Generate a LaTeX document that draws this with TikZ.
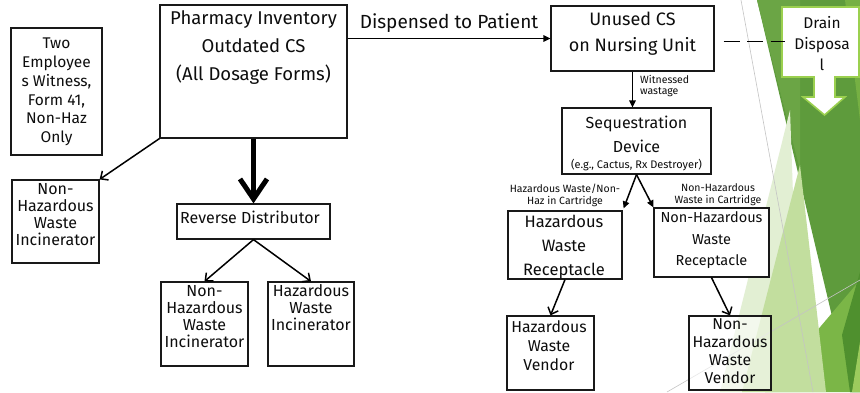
\documentclass[tikz,border=0pt]{standalone}
\usepackage{fontspec}
\setmainfont{Fira Sans}
\usetikzlibrary{arrows.meta}
\definecolor{leafgreen}{RGB}{94,155,60}
\definecolor{facetMedium}{RGB}{107,165,69}
\definecolor{facetTop}{RGB}{118,176,67}
\definecolor{facetBright}{RGB}{123,182,71}
\definecolor{facetDeep}{RGB}{79,144,46}
\definecolor{facetLimeB}{RGB}{156,203,93}
\definecolor{facetVPale}{RGB}{226,239,211}
\definecolor{facetLight}{RGB}{194,222,158}
\definecolor{facetLime}{RGB}{155,208,79}
\definecolor{thinline}{RGB}{196,196,196}
\newcommand\fsz[2]{\fontsize{#1}{#2}\selectfont}
\begin{document}
\begin{tikzpicture}[x=1pt,y=-1pt,
  box/.style={draw=black!90, line width=1.2pt, fill=white, inner sep=0pt},
  txt/.style={align=center, inner sep=0pt, text=black!95},
  conn/.style={line width=1.5pt, draw=black},
  openarrow/.style={conn, -{Straight Barb[length=6pt,width=11pt]}},
  fillarrow/.style={conn, -{Triangle[length=7pt,width=6.5pt]}}]
\useasboundingbox (0,0) rectangle (860,392);
\fill[white] (0,0) rectangle (860,392);
% background facets
\fill[leafgreen] (757,0) -- (860,0) -- (860,392) -- (850,392) -- cycle;
\fill[facetMedium] (757,0) -- (800,0) -- (800,170) -- cycle;
\fill[facetTop] (845,0) -- (860,0) -- (860,120) -- cycle;
\fill[facetBright] (765,392) -- (860,280) -- (860,392) -- cycle;
\fill[facetDeep] (842,335) -- (860,272) -- (860,392) -- (850,392) -- cycle;
\fill[facetLimeB] (852,392) -- (860,342) -- (860,392) -- cycle;
\fill[facetVPale] (790,110) -- (720,392) -- (800,392) -- cycle;
\fill[facetLight] (800,165) -- (742,392) -- (826,392) -- cycle;
\draw[thinline, line width=0.6pt] (741,0) -- (813,392);
\draw[thinline, line width=0.6pt] (667,392) -- (860,280);
% boxes
\node[box, minimum width=91pt, minimum height=127pt] (emp) at (56.5,91.5) {};
\node[box, minimum width=187pt, minimum height=133pt] (pharm) at (253.5,71.5) {};
\node[box, minimum width=163pt, minimum height=65pt] (unused) at (632.5,38.5) {};
\node[box, minimum width=149pt, minimum height=66pt] (seq) at (636.5,141) {};
\node[box, minimum width=114pt, minimum height=68pt] (hrec) at (565,245) {};
\node[box, minimum width=115pt, minimum height=69pt] (nrec) at (711.5,242.5) {};
\node[box, minimum width=87pt, minimum height=74pt] (hven) at (550.5,353) {};
\node[box, fill opacity=0.6, minimum width=82pt, minimum height=74pt] (nven) at (730,353) {};
\node[box, minimum width=87pt, minimum height=83pt] (inc1) at (55.5,221.5) {};
\node[box, minimum width=153pt, minimum height=35pt] (rd) at (253.5,221.5) {};
\node[box, minimum width=87pt, minimum height=84pt] (inc2) at (204.5,324) {};
\node[box, minimum width=86pt, minimum height=84pt] (inc3) at (311,324) {};
% drain disposal callout
\draw[facetLime, line width=1.6pt, fill=white] (782,7) -- (859,7) -- (859,77) -- (835,77) -- (835,97) -- (845,97) -- (824.5,115) -- (803,97) -- (814,97) -- (814,77) -- (782,77) -- cycle;
\coordinate (drainW) at (785,41.5);
% texts
\node[txt, font=\fsz{15.5}{18.8}] (tEmp) at (56.5,92) {Two\\Employee\\s Witness,\\Form 41,\\Non-Haz\\Only};
\node[txt, font=\fsz{18.5}{28}] (tPharm) at (253.5,48) {Pharmacy Inventory\\Outdated CS\\(All Dosage Forms)};
\node[txt, font=\fsz{18}{26}] (tUnused) at (632.5,34) {Unused CS\\on Nursing Unit};
\node[txt, font=\fsz{15.5}{21}] (tDrain) at (822,44) {Drain\\Disposa\\l};
\node[txt, font=\fsz{16}{24}] (tSeq) at (636.5,134) {Sequestration\\Device};
\node[txt, font=\fsz{11}{12}] (tSeq2) at (636.5,165) {(e.g., Cactus, Rx Destroyer)};
\node[txt, font=\fsz{16.5}{24}] (tHrec) at (564,247) {Hazardous\\Waste\\Receptacle};
\node[txt, font=\fsz{14.5}{21.5}] (tNrec) at (711.5,240.5) {Non-Hazardous\\Waste\\Receptacle};
\node[txt, font=\fsz{15.8}{19}] (tHven) at (549,346) {Hazardous\\Waste\\Vendor};
\node[txt, font=\fsz{15.7}{18}] (tNven) at (730,351) {Non-\\Hazardous\\Waste\\Vendor};
\node[txt, font=\fsz{16}{17}] (tInc1) at (55.5,214.5) {Non-\\Hazardous\\Waste\\Incinerator};
\node[txt, font=\fsz{16}{17}] (tInc2) at (204.5,316.5) {Non-\\Hazardous\\Waste\\Incinerator};
\node[txt, font=\fsz{16}{17}] (tInc3) at (311,308) {Hazardous\\Waste\\Incinerator};
\node[txt, font=\fsz{16}{19}] (tRd) at (250,217) {Reverse Distributor};
% connectors
\draw[fillarrow] (pharm.east |- unused.west) -- node[txt, above=5pt, font=\fsz{19}{21}] (tDisp) {Dispensed to Patient} (unused.west);
\draw[black, line width=1.6pt, dash pattern=on 16pt off 7.5pt] ([xshift=9pt,yshift=-3pt]unused.east) -- (drainW);
\draw[fillarrow] (unused.south) -- (unused.south |- seq.north);
\node[txt, font=\fsz{10.5}{10.5}, anchor=west, align=left] (tWit) at (640,86) {Witnessed\\wastage};
\draw[fillarrow] (seq.south) -- ([xshift=1pt,yshift=2pt]hrec.north east);
\draw[fillarrow] (seq.south) -- (nrec.north west);
\node[txt, font=\fsz{10.5}{12}] (tL1) at (565,195) {Hazardous Waste/Non-\\Haz in Cartridge};
\node[txt, font=\fsz{10.5}{12}] (tL2) at (718,195) {Non-Hazardous\\Waste in Cartridge};
\draw[openarrow] (hrec.south) -- (hven.north);
\draw[openarrow] (nrec.south) -- (nven.north);
\draw[openarrow] (pharm.south west) -- (inc1.north east);
\draw[black, line width=5pt, -{Straight Barb[length=20pt,width=27pt]}] (pharm.south) -- (rd.north);
\draw[openarrow] (rd.south) -- (inc2.north);
\draw[openarrow] (rd.south) -- (inc3.north);
\end{tikzpicture}
\end{document}
